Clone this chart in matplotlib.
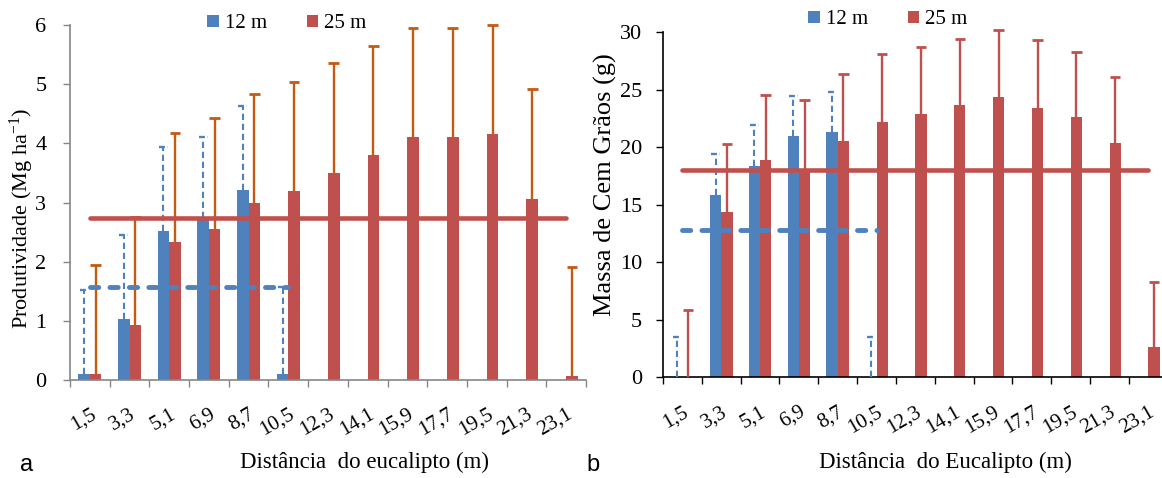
import numpy as np
import matplotlib
matplotlib.use("Agg")
import matplotlib.pyplot as plt
from matplotlib.patches import Patch

plt.rcParams['font.family'] = ['Liberation Serif', 'DejaVu Serif']
plt.rcParams['mathtext.fontset'] = 'custom'
plt.rcParams['mathtext.rm'] = 'Liberation Serif'
plt.rcParams['mathtext.it'] = 'Liberation Serif:italic'

# ---------------- data ----------------
categories = ["1,5", "3,3", "5,1", "6,9", "8,7", "10,5", "12,3",
              "14,1", "15,9", "17,7", "19,5", "21,3", "23,1"]

# Panel a: Produtividade (Mg ha-1)
prod_12 = [0.1, 1.03, 2.52, 2.73, 3.21, 0.1]
prod_12_upper = [1.52, 2.45, 3.94, 4.11, 4.63, 1.57]
prod_25 = [0.1, 0.93, 2.33, 2.56, 3.0, 3.2, 3.5, 3.8, 4.11, 4.11, 4.15, 3.06, 0.07]
prod_25_upper = [1.94, 2.75, 4.18, 4.42, 4.84, 5.04, 5.35, 5.65, 5.95, 5.95, 6.0, 4.91, 1.91]
prod_mean_12 = 1.58
prod_mean_25 = 2.73

# Panel b: Massa de Cem Grãos (g)
mass_12 = [0.0, 15.85, 18.4, 21.0, 21.35, 0.0]
mass_12_upper = [3.48, 19.4, 21.9, 24.5, 24.8, 3.5]
mass_25 = [0.0, 14.4, 18.9, 18.1, 20.55, 22.2, 22.9, 23.7, 24.35, 23.45, 22.6, 20.35, 2.6]
mass_25_upper = [5.85, 20.25, 24.55, 24.1, 26.4, 28.1, 28.75, 29.4, 30.2, 29.3, 28.3, 26.15, 8.3]
mass_mean_12 = 12.8
mass_mean_25 = 18.03

series_labels = ["12 m", "25 m"]

BLUE = "#4F81BD"
RED = "#C0504D"
ORANGE = "#C55A11"

W, H = 1162, 478
fig = plt.figure(figsize=(W / 100, H / 100), dpi=100)


def px_axes(x0, y_top, x1, y_bot):
    return fig.add_axes([x0 / W, 1 - y_bot / H, (x1 - x0) / W, (y_bot - y_top) / H])


def draw_panel(ax, v12, up12, v25, up25, m12, m25, ymax, ystep, red_err_color,
               spine_color):
    n = len(categories)
    centers = np.arange(n) + 0.5
    bw = 0.29
    x12 = centers[:len(v12)] - bw / 2
    x25 = centers[:len(v25)] + bw / 2
    v12a, up12a = np.array(v12), np.array(up12)
    v25a, up25a = np.array(v25), np.array(up25)

    ax.bar(x12, v12a, width=bw, color=BLUE, zorder=2)
    ax.bar(x25, v25a, width=bw, color=RED, zorder=2)

    # red error bars (upper only)
    ax.vlines(x25, v25a, up25a, colors=red_err_color, linewidth=1.7, zorder=3,
              clip_on=False)
    ax.hlines(up25a, x25 - 0.135, x25 + 0.135, colors=red_err_color,
              linewidth=2.0, zorder=3, clip_on=False)
    # blue dashed error bars (upper only)
    ax.vlines(x12, v12a, up12a, colors=BLUE, linewidth=1.5,
              linestyles=(0, (3, 1.8)), zorder=3)
    ax.hlines(up12a, x12 - 0.11, x12 + 0.11, colors=BLUE, linewidth=1.7,
              linestyles=(0, (2.5, 1.2)), zorder=3)

    # mean lines
    ax.hlines(m25, centers[0], centers[len(v25) - 1], colors=RED, linewidth=3.3,
              zorder=4, capstyle='round')
    ax.plot([centers[0], centers[len(v12) - 1]], [m12, m12], color=BLUE,
            linewidth=3.5, zorder=4, dash_capstyle='round',
            linestyle=(0, (1.7, 2.3)))

    ax.set_xlim(0, n)
    ax.set_ylim(0, ymax)
    ax.set_yticks(np.arange(0, ymax + 0.001, ystep))
    ax.set_xticks(np.arange(0, n + 1))
    ax.set_xticklabels([])
    ax.set_xticks(centers, minor=True)
    ax.set_xticklabels(categories, minor=True)
    ax.tick_params(axis='x', which='major', direction='out', length=5,
                   color=spine_color, width=1)
    ax.tick_params(axis='x', which='minor', length=0, pad=18, labelsize=15)
    for lab in ax.get_xticklabels(minor=True):
        lab.set_rotation(30)
        lab.set_ha('right')
        lab.set_va('top')
        lab.set_rotation_mode('anchor')
    ax.tick_params(axis='y', direction='out', length=5, color=spine_color,
                   width=1, labelsize=16)
    for s in ['top', 'right']:
        ax.spines[s].set_visible(False)
    for s in ['left', 'bottom']:
        ax.spines[s].set_color(spine_color)
        ax.spines[s].set_linewidth(1.2)


# Panel a
ax1 = px_axes(70, 25, 586, 380)
draw_panel(ax1, prod_12, prod_12_upper, prod_25, prod_25_upper,
           prod_mean_12, prod_mean_25, 6, 1, ORANGE, "#868686")
ax1.tick_params(axis='y', pad=12)

# Panel b
ax2 = px_axes(663, 32.3, 663 + 13 * 38.83, 377.3)
draw_panel(ax2, mass_12, mass_12_upper, mass_25, mass_25_upper,
           mass_mean_12, mass_mean_25, 30, 5, RED, "#000000")
ax2.tick_params(axis='y', pad=10)

# Legends
handles = [Patch(facecolor=BLUE), Patch(facecolor=RED)]
for cx, cy in [(287, 24), (888, 20)]:
    fig.legend(handles, series_labels, loc='center',
               bbox_to_anchor=(cx / W, 1 - cy / H), ncol=2, frameon=False,
               fontsize=15, handlelength=0.55, handleheight=0.55,
               handletextpad=0.3, columnspacing=1.9, borderpad=0.1)

# Axis labels
fig.text(22 / W, 1 - 218 / H, r'Produtividade (Mg ha$^{\mathregular{-1}}$)',
         rotation=90, ha='center', va='center', fontsize=16)
fig.text(605 / W, 1 - 185 / H, 'Massa de Cem Grãos (g)', rotation=90,
         ha='center', va='center', fontsize=19)
fig.text(365 / W, 1 - 462 / H, 'Distância  do eucalipto (m)', ha='center',
         va='center', fontsize=16.5)
fig.text(945 / W, 1 - 462 / H, 'Distância  do Eucalipto (m)', ha='center',
         va='center', fontsize=16.5)

# Panel letters
fig.text(27 / W, 1 - 465 / H, 'a', ha='center', va='center', fontsize=17,
         family=['Liberation Sans', 'DejaVu Sans'])
fig.text(593 / W, 1 - 465 / H, 'b', ha='center', va='center', fontsize=17,
         family=['Liberation Sans', 'DejaVu Sans'])

fig.savefig('out.png', dpi=100)
